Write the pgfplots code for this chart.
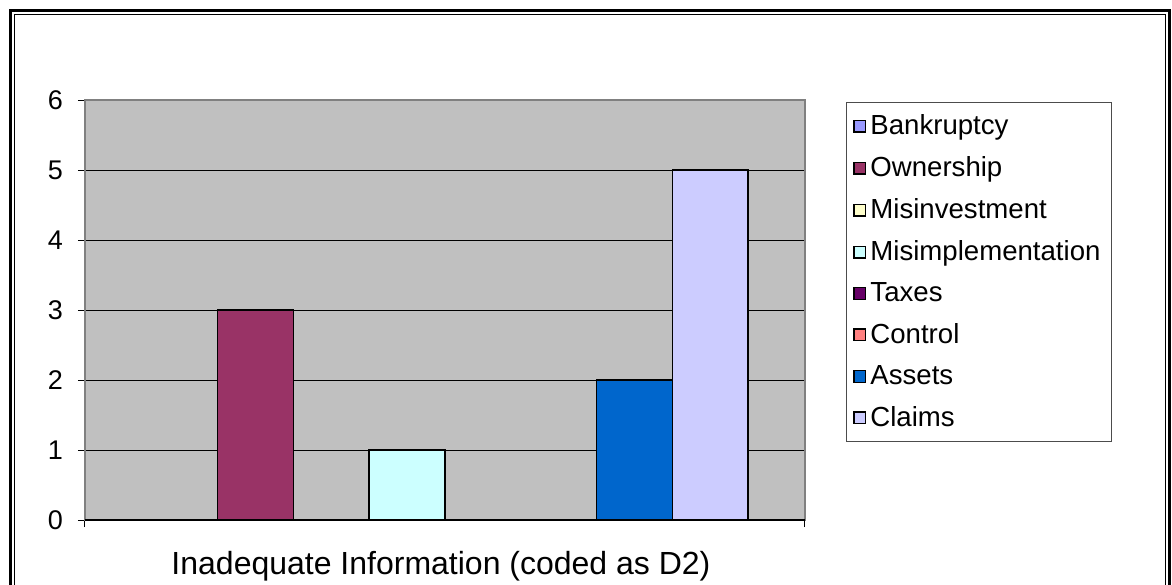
\documentclass[border=0pt]{standalone}
\usepackage{fontspec}
\setmainfont{Liberation Sans}
\usepackage{pgfplots}
\pgfplotsset{compat=1.18}
\definecolor{bgray}{HTML}{C0C0C0}
\definecolor{axgray}{HTML}{808080}
\definecolor{cBank}{HTML}{9999FF}
\definecolor{cOwn}{HTML}{993366}
\definecolor{cMisinv}{HTML}{FFFFCC}
\definecolor{cMisimp}{HTML}{CCFFFF}
\definecolor{cTax}{HTML}{660066}
\definecolor{cCtrl}{HTML}{FF8080}
\definecolor{cAsset}{HTML}{0066CC}
\definecolor{cClaim}{HTML}{CCCCFF}
\pgfplotsset{
  sq/.style={ybar, bar width=1, bar shift=0pt, draw=black, line width=0.75pt,
    legend image code/.code={\draw[##1, draw=black, line width=0.7pt] (0pt,-2.9pt) rectangle (5.8pt,2.9pt);}},
}
\begin{document}
\begin{tikzpicture}
\useasboundingbox (0,0) rectangle (586pt,292pt);
\begin{axis}[
  at={(42.5pt,32pt)}, anchor=south west,
  scale only axis, width=360pt, height=210pt,
  xmin=-4.75, xmax=4.75, ymin=0, ymax=6,
  ytick={0,...,6}, xtick={-4.75,4.75}, xticklabels={,},
  tick align=outside, xtick pos=bottom, ytick pos=left,
  major tick length=3.5pt,
  tick style={black, line width=0.5pt},
  ymajorgrids, grid style={black, line width=0.5pt},
  axis line style={draw=axgray, line width=0.75pt},
  axis background/.style={fill=bgray},
  ticklabel style={font=\fontsize{13.5}{15}\selectfont},
  /pgf/number format/assume math mode=true,
  yticklabel style={xshift=-4pt},
  xlabel={Inadequate Information (coded as D2)},
  xlabel style={font=\fontsize{16}{18}\selectfont, at={(axis description cs:0.5,0)}, anchor=center, yshift=-23pt, xshift=-2pt},
  legend cell align=left,
  legend style={at={(1.057,0.995)}, anchor=north west, draw=black!70, fill=white,
    font=\fontsize{13.8}{15}\selectfont, row sep=5.5pt, inner xsep=3.5pt, inner ysep=4pt,
    /tikz/every even column/.style={column sep=0pt}},
]
\addplot[sq, fill=cBank]   coordinates {(-3.5,0)};
\addplot[sq, fill=cOwn]    coordinates {(-2.5,3)};
\addplot[sq, fill=cMisinv] coordinates {(-1.5,0)};
\addplot[sq, fill=cMisimp] coordinates {(-0.5,1)};
\addplot[sq, fill=cTax]    coordinates {(0.5,0)};
\addplot[sq, fill=cCtrl]   coordinates {(1.5,0)};
\addplot[sq, fill=cAsset]  coordinates {(2.5,2)};
\addplot[sq, fill=cClaim]  coordinates {(3.5,5)};
\legend{Bankruptcy,Ownership,Misinvestment,Misimplementation,Taxes,Control,Assets,Claims}
\draw[black, line width=0.75pt] (rel axis cs:0,0) -- (rel axis cs:1,0);
\end{axis}
\begin{scope}
\clip (0,0) rectangle (586pt,292pt);
\draw[black, line width=1.5pt] (5pt,-10pt) -- (5pt,286.5pt) -- (584.5pt,286.5pt) -- (584.5pt,-10pt);
\draw[black, line width=0.6pt] (7.2pt,-10pt) -- (7.2pt,284.6pt) -- (582.8pt,284.6pt) -- (582.8pt,-10pt);
\end{scope}
\end{tikzpicture}
\end{document}
